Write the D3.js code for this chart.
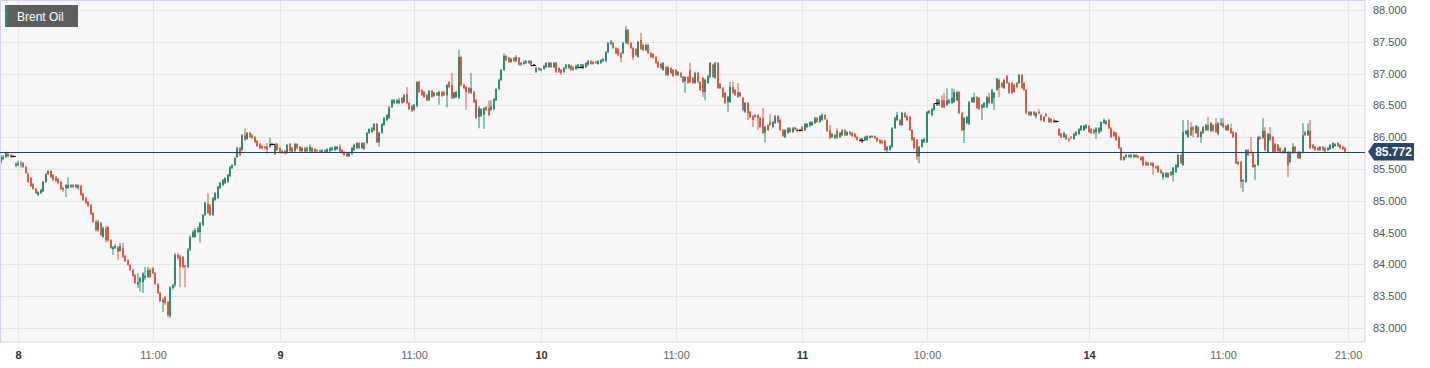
<!DOCTYPE html>
<html>
<head>
<meta charset="utf-8">
<script src="https://cdn.jsdelivr.net/npm/d3@7/dist/d3.min.js"></script>
<style>
  html, body { margin: 0; padding: 0; background: #ffffff; }
  svg { display: block; }
  text { font-family: "Liberation Sans", Arial, Helvetica, sans-serif; }
</style>
</head>
<body>
<svg id="chart" width="1430" height="368"></svg>
<script>
// ---------------- DATA ----------------
const title = "Brent Oil";

const opens = [
  // day 8
  85.61,85.66,85.69,85.74,85.72,85.70,85.55,85.56,85.58,85.59,85.53,85.42,85.36,85.26,85.19,85.09,85.12,85.15,85.30,85.42,
  85.47,85.41,85.37,85.34,85.30,85.20,85.20,85.20,85.22,85.25,85.22,85.25,85.23,85.11,85.04,84.98,84.93,84.81,84.67,84.54,
  84.65,84.43,84.57,84.59,84.38,84.24,84.26,84.27,84.21,84.26,84.13,84.07,83.99,83.91,83.83,83.68,83.72,83.72,83.79,83.80,
  83.91,83.94,83.86,83.69,83.55,83.41,83.49,83.41,83.19,83.63,83.68,84.15,84.12,84.12,83.98,83.96,84.23,84.43,84.43,84.51,
  84.51,84.62,84.78,84.95,84.93,84.78,85.01,85.04,85.20,85.25,85.28,85.30,85.39,85.52,85.56,85.69,85.83,
  // day 9
  85.80,86.03,85.97,86.07,86.03,86.00,85.94,85.89,85.86,85.85,85.85,85.85,85.89,85.74,85.89,85.83,85.78,85.78,85.75,85.89,
  85.83,85.78,85.89,85.85,85.78,85.83,85.78,85.78,85.83,85.81,85.80,85.77,85.77,85.80,85.77,85.78,85.80,85.80,85.81,85.85,
  85.80,85.77,85.75,85.70,85.74,85.80,85.83,85.91,85.83,85.91,85.91,86.07,86.08,86.11,86.21,85.92,86.07,86.19,86.27,86.30,
  86.47,86.54,86.54,86.54,86.62,86.55,86.68,86.54,86.49,86.43,86.49,86.87,86.74,86.71,86.66,86.58,86.73,86.65,86.70,86.65,
  86.71,86.71,86.66,86.87,86.82,86.62,86.63,86.62,87.26,86.82,86.79,86.77,86.70,86.71,86.58,86.32,
  // day 9-10
  86.33,86.35,86.47,86.46,86.43,86.44,86.58,86.76,86.90,87.06,87.28,87.25,87.18,87.25,87.20,87.25,87.14,87.15,87.17,87.17,
  87.20,87.14,87.03,87.09,87.06,87.07,87.10,87.10,87.17,87.10,87.17,87.09,87.06,87.03,87.09,87.09,87.12,87.10,87.07,87.09,
  87.10,87.09,87.10,87.14,87.20,87.18,87.18,87.15,87.17,87.20,87.20,87.34,87.47,87.48,87.40,87.39,87.32,87.32,87.48,87.69,
  87.48,87.40,87.39,87.26,87.53,87.45,87.37,87.45,87.32,87.31,87.26,87.18,87.15,87.06,87.10,86.98,87.09,87.06,87.06,86.98,
  87.01,86.95,86.88,86.95,87.06,86.93,86.85,87.01,86.87,86.93,86.71,86.85,86.95,87.14,86.93,87.17,
  // day 10-11
  86.84,86.77,86.70,86.55,86.55,86.79,86.74,86.71,86.65,86.62,86.40,86.54,86.40,86.33,86.35,86.35,86.30,86.30,86.07,86.19,
  86.24,86.16,86.22,86.33,86.27,86.11,86.00,86.07,86.14,86.08,86.13,
  86.13,86.11,86.16,86.11,86.16,86.18,86.19,86.22,86.30,86.24,
  86.27,86.35,86.27,86.11,86.00,85.99,86.10,86.00,86.03,86.11,86.03,86.08,
  86.07,86.05,86.00,85.97,85.96,85.96,85.96,85.99,86.02,
  86.02,85.99,85.96,85.94,85.94,85.80,85.80,85.85,86.14,86.27,86.27,86.19,86.38,86.33,86.32,86.11,85.99,85.96,85.70,85.85,85.92,
  85.92,86.38,86.35,86.43,86.54,86.51,86.58,86.58,86.51,
  // day 11-14
  86.54,86.54,86.55,86.58,86.71,86.38,86.11,86.22,86.21,86.55,86.55,86.63,86.62,86.46,86.47,86.47,86.63,86.54,86.62,86.74,
  86.90,86.85,86.77,86.96,86.85,86.85,86.82,86.85,86.85,86.98,86.85,86.74,86.40,86.35,86.40,86.33,86.40,86.35,86.25,86.36,
  86.30,86.29,86.27,86.25,86.13,86.05,86.00,86.03,85.97,86.00,85.97,86.03,86.05,86.11,86.11,86.14,86.18,86.13,86.11,86.08,
  86.07,86.10,86.22,86.21,86.27,86.14,86.08,86.07,86.00,85.83,85.64,85.69,85.72,85.69,85.69,85.72,85.69,85.69,85.69,85.61,
  85.56,85.59,85.59,85.53,85.55,85.48,85.37,85.37,85.44,85.41,85.41,85.45,85.53,85.72,85.56,86.05,
  // day 14
  86.00,86.16,86.16,86.07,86.16,86.00,86.07,86.11,86.19,86.10,86.19,86.21,86.05,86.19,86.22,86.18,86.11,86.14,86.08,86.07,
  85.58,85.61,85.30,85.30,85.80,85.77,85.75,85.53,85.56,86.00,85.99,86.10,
  85.77,86.05,86.00,85.89,85.88,85.83,85.78,85.75,85.77,85.61,85.75,85.85,85.77,85.67,85.77,86.08,86.03,86.10,85.88,85.85,
  85.83,85.80,85.85,85.83,85.80,85.81,85.83,85.86,85.91,85.88,85.85,85.83
];

const highs = [
  85.72,85.72,85.77,85.77,85.74,85.72,85.61,85.63,85.63,85.61,85.55,85.44,85.37,85.28,85.20,85.15,85.19,85.31,85.44,85.48,
  85.48,85.42,85.39,85.36,85.31,85.22,85.26,85.37,85.26,85.26,85.26,85.26,85.25,85.12,85.06,85.00,84.95,84.82,84.70,84.70,
  84.67,84.60,84.60,84.60,84.40,84.29,84.32,84.29,84.34,84.34,84.15,84.08,84.00,83.93,83.85,83.86,83.80,83.88,83.96,83.96,
  83.94,83.96,83.88,83.71,83.57,83.47,83.50,83.42,83.66,83.69,84.18,84.18,84.15,84.13,83.99,84.26,84.46,84.54,84.57,84.60,
  84.67,84.79,84.98,85.12,84.95,85.06,85.14,85.23,85.30,85.34,85.37,85.42,85.55,85.58,85.69,85.85,85.85,
  86.05,86.14,86.08,86.08,86.05,86.02,85.96,85.91,85.88,85.86,85.91,85.99,85.91,85.91,85.91,85.85,85.80,85.80,85.89,85.91,
  85.85,85.91,85.91,85.86,85.85,85.85,85.85,85.89,85.85,85.83,85.81,85.80,85.81,85.81,85.83,85.85,85.85,85.86,85.86,85.89,
  85.81,85.78,85.77,85.77,85.85,85.89,85.92,85.92,85.92,85.92,86.08,86.14,86.16,86.22,86.22,86.08,86.22,86.32,86.36,86.49,
  86.60,86.60,86.60,86.62,86.63,86.68,86.79,86.55,86.51,86.52,86.88,86.88,86.76,86.73,86.68,86.74,86.74,86.71,86.71,86.73,
  86.73,86.73,86.84,86.88,87.01,86.71,86.73,87.37,87.28,86.84,86.80,86.79,87.01,86.73,86.60,86.49,
  86.46,86.47,86.49,86.58,86.58,86.62,86.77,86.92,87.07,87.32,87.29,87.26,87.25,87.26,87.29,87.26,87.18,87.21,87.21,87.21,
  87.21,87.15,87.10,87.10,87.09,87.14,87.18,87.18,87.18,87.18,87.18,87.10,87.07,87.10,87.15,87.15,87.14,87.12,87.14,87.15,
  87.15,87.15,87.18,87.21,87.21,87.20,87.20,87.21,87.23,87.25,87.35,87.50,87.53,87.50,87.42,87.40,87.34,87.50,87.75,87.70,
  87.50,87.42,87.40,87.51,87.64,87.47,87.47,87.47,87.34,87.32,87.28,87.20,87.17,87.18,87.12,87.12,87.10,87.07,87.07,87.04,
  87.03,86.96,86.96,86.96,87.17,86.95,87.03,87.03,86.88,86.95,86.92,86.98,87.18,87.15,87.18,87.18,
  86.85,86.79,86.71,86.65,86.87,86.87,86.76,86.85,86.71,86.63,86.55,86.55,86.41,86.35,86.36,86.36,86.32,86.46,86.18,86.21,
  86.36,86.25,86.35,86.35,86.29,86.13,86.13,86.16,86.16,86.16,86.16,
  86.14,86.13,86.18,86.22,86.22,86.25,86.25,86.32,86.32,86.35,
  86.38,86.36,86.29,86.19,86.07,86.05,86.14,86.08,86.13,86.13,86.10,86.10,
  86.08,86.07,86.02,85.99,85.99,86.02,86.03,86.03,86.03,
  86.03,86.00,85.97,85.96,85.96,85.86,85.88,86.16,86.32,86.40,86.29,86.40,86.40,86.35,86.33,86.13,86.00,85.97,85.86,85.97,85.99,
  86.41,86.43,86.46,86.54,86.60,86.60,86.66,86.70,86.77,
  86.60,86.77,86.76,86.73,86.73,86.40,86.32,86.33,86.57,86.63,86.70,86.65,86.63,86.52,86.55,86.65,86.70,86.76,86.71,86.93,
  86.92,86.87,86.92,86.98,86.87,86.87,86.84,86.87,86.99,86.99,86.87,86.76,86.41,86.41,86.41,86.40,86.44,86.36,86.33,86.38,
  86.32,86.30,86.29,86.27,86.14,86.07,86.08,86.05,85.99,86.02,86.07,86.10,86.14,86.19,86.19,86.21,86.19,86.14,86.13,86.16,
  86.16,86.25,86.30,86.27,86.29,86.16,86.10,86.08,86.02,85.85,85.70,85.74,85.74,85.74,85.74,85.74,85.72,85.70,85.70,85.63,
  85.61,85.61,85.61,85.55,85.56,85.50,85.45,85.45,85.45,85.47,85.53,85.58,85.74,85.74,86.27,86.11,
  86.27,86.24,86.18,86.19,86.18,86.10,86.18,86.21,86.32,86.24,86.21,86.30,86.24,86.30,86.30,86.19,86.21,86.21,86.10,86.08,
  85.63,85.63,85.34,85.81,85.81,86.00,85.77,85.58,86.02,86.02,86.30,86.16,
  86.07,86.16,86.02,85.91,85.89,85.85,85.80,85.85,85.78,85.78,85.91,85.86,85.78,85.78,86.22,86.10,86.22,86.27,85.89,85.86,
  85.85,85.86,85.86,85.85,85.85,85.89,85.92,85.91,85.92,85.89,85.86,85.85
];

const lows = [
  85.58,85.64,85.67,85.69,85.67,85.69,85.53,85.55,85.52,85.52,85.42,85.28,85.22,85.17,85.11,85.08,85.11,85.14,85.28,85.41,
  85.36,85.31,85.30,85.26,85.17,85.14,85.06,85.19,85.20,85.20,85.20,85.17,85.08,85.00,84.95,84.90,84.78,84.65,84.52,84.51,
  84.45,84.42,84.35,84.36,84.24,84.15,84.24,84.07,84.20,84.10,84.04,83.98,83.90,83.80,83.69,83.63,83.57,83.55,83.75,83.79,
  83.79,83.85,83.68,83.54,83.41,83.25,83.36,83.17,83.16,83.60,83.64,84.07,83.64,83.94,83.64,83.94,84.21,84.42,84.42,84.49,
  84.34,84.60,84.76,84.79,84.76,84.76,85.00,85.03,85.19,85.23,85.26,85.28,85.37,85.50,85.55,85.67,85.70,
  85.78,85.94,85.96,85.99,85.97,85.91,85.85,85.81,85.81,85.80,85.74,85.83,85.88,85.72,85.78,85.75,85.74,85.72,85.74,85.77,
  85.75,85.77,85.81,85.77,85.77,85.75,85.77,85.77,85.75,85.75,85.77,85.75,85.75,85.75,85.75,85.77,85.78,85.78,85.80,85.75,
  85.74,85.70,85.69,85.69,85.72,85.78,85.81,85.81,85.81,85.80,85.89,86.05,86.07,86.10,85.91,85.85,86.05,86.18,86.25,86.29,
  86.46,86.52,86.52,86.52,86.52,86.54,86.52,86.43,86.40,86.41,86.47,86.70,86.65,86.62,86.57,86.57,86.62,86.63,86.65,86.51,
  86.63,86.65,86.47,86.77,86.60,86.60,86.62,86.60,86.80,86.76,86.43,86.68,86.68,86.54,86.29,86.14,
  86.32,86.13,86.41,86.33,86.41,86.43,86.57,86.74,86.88,87.04,87.20,87.17,87.17,87.18,87.18,87.12,87.12,87.14,87.15,87.15,
  87.12,87.12,87.01,87.04,87.04,87.06,87.09,87.09,87.09,87.09,87.01,87.01,86.98,87.01,87.07,87.07,87.04,87.04,87.06,87.07,
  87.09,87.07,87.09,87.12,87.14,87.14,87.15,87.14,87.15,87.18,87.18,87.32,87.45,87.39,87.31,87.28,87.18,87.31,87.47,87.45,
  87.39,87.21,87.28,87.25,87.37,87.35,87.35,87.31,87.25,87.23,87.15,87.09,87.07,87.04,86.96,86.96,86.99,86.95,86.96,86.96,
  86.93,86.85,86.70,86.84,86.85,86.84,86.84,86.85,86.73,86.63,86.58,86.84,86.93,86.93,86.92,86.76,
  86.76,86.62,86.52,86.40,86.54,86.68,86.65,86.62,86.63,86.41,86.38,86.27,86.30,86.16,86.30,86.11,86.14,86.05,85.92,86.10,
  86.18,86.14,86.21,86.22,86.10,86.00,85.99,86.05,86.07,86.07,86.11,
  86.08,86.10,86.10,86.10,86.14,86.16,86.18,86.21,86.22,86.22,
  86.25,86.27,86.08,85.97,85.99,85.97,85.97,85.99,86.02,86.02,86.02,86.03,
  86.00,85.99,85.94,85.92,85.91,85.94,85.94,85.97,85.99,
  85.97,85.92,85.89,85.89,85.78,85.75,85.78,85.83,86.13,86.25,86.18,86.18,86.30,86.25,86.10,85.94,85.81,85.64,85.59,85.83,85.91,
  85.91,86.36,86.33,86.41,86.49,86.49,86.46,86.46,86.49,
  86.52,86.52,86.54,86.57,86.36,86.10,85.91,86.21,86.19,86.54,86.54,86.44,86.43,86.27,86.46,86.46,86.52,86.52,86.43,86.73,
  86.63,86.77,86.76,86.84,86.68,86.68,86.70,86.77,86.84,86.76,86.73,86.36,86.33,86.33,86.33,86.29,86.36,86.25,86.24,86.32,
  86.22,86.22,86.22,86.24,86.02,85.99,85.99,85.96,85.92,85.97,85.96,86.02,86.03,86.10,86.10,86.13,86.07,86.05,86.05,85.97,
  86.05,86.08,86.21,86.19,86.13,85.99,86.00,85.94,85.81,85.63,85.63,85.67,85.67,85.67,85.67,85.67,85.67,85.63,85.55,85.55,
  85.55,85.55,85.41,85.50,85.44,85.42,85.33,85.36,85.36,85.39,85.30,85.44,85.52,85.58,85.55,86.03,
  85.99,86.02,86.00,86.05,85.99,85.91,86.05,86.10,86.10,86.08,86.08,86.07,86.03,86.18,86.14,86.10,86.10,86.05,85.99,85.58,
  85.56,85.20,85.14,85.28,85.70,85.74,85.52,85.33,85.55,85.96,85.97,85.78,
  85.75,85.94,85.75,85.75,85.77,85.75,85.74,85.74,85.37,85.59,85.74,85.75,85.66,85.66,85.75,86.02,86.02,85.81,85.81,85.78,
  85.78,85.78,85.78,85.77,85.78,85.80,85.81,85.85,85.85,85.81,85.80,85.75
];

const closes = [
  85.69,85.69,85.75,85.70,85.70,85.70,85.58,85.59,85.59,85.53,85.44,85.30,85.23,85.19,85.12,85.14,85.17,85.30,85.42,85.47,
  85.37,85.33,85.31,85.28,85.19,85.17,85.25,85.25,85.25,85.22,85.25,85.20,85.09,85.01,84.97,84.92,84.79,84.67,84.54,84.67,
  84.46,84.57,84.38,84.38,84.26,84.27,84.29,84.20,84.29,84.12,84.05,83.99,83.91,83.82,83.71,83.72,83.79,83.86,83.82,83.91,
  83.80,83.86,83.69,83.55,83.42,83.44,83.39,83.20,83.64,83.68,84.15,84.10,83.96,83.96,83.96,84.23,84.43,84.51,84.54,84.57,
  84.65,84.78,84.97,84.81,84.78,85.04,85.12,85.22,85.28,85.33,85.36,85.41,85.53,85.56,85.67,85.83,85.72,
  86.03,85.96,86.07,86.00,85.99,85.92,85.86,85.83,85.83,85.83,85.81,85.89,85.89,85.89,85.80,85.77,85.75,85.75,85.88,85.78,
  85.77,85.89,85.83,85.78,85.83,85.77,85.83,85.85,85.77,85.77,85.78,85.78,85.80,85.77,85.81,85.83,85.83,85.85,85.85,85.77,
  85.75,85.72,85.70,85.75,85.83,85.88,85.91,85.83,85.91,85.81,86.07,86.13,86.14,86.21,85.92,86.07,86.21,86.30,86.35,86.47,
  86.58,86.58,86.58,86.58,86.54,86.66,86.54,86.44,86.41,86.51,86.87,86.71,86.66,86.63,86.58,86.73,86.63,86.70,86.66,86.71,
  86.65,86.66,86.82,86.79,86.62,86.70,86.71,87.26,86.82,86.77,86.71,86.70,86.77,86.55,86.30,86.46,
  86.44,86.46,86.43,86.35,86.49,86.60,86.76,86.90,87.06,87.28,87.21,87.18,87.23,87.20,87.26,87.14,87.17,87.18,87.20,87.20,
  87.14,87.14,87.09,87.06,87.07,87.12,87.17,87.17,87.10,87.17,87.03,87.03,87.01,87.09,87.14,87.14,87.06,87.06,87.12,87.14,
  87.10,87.14,87.17,87.20,87.15,87.15,87.17,87.20,87.21,87.23,87.34,87.48,87.50,87.40,87.32,87.29,87.25,87.48,87.69,87.47,
  87.40,87.26,87.29,87.50,87.39,87.37,87.45,87.32,87.26,87.25,87.17,87.10,87.09,87.17,86.98,87.10,87.01,86.96,86.98,87.03,
  86.95,86.87,86.95,86.85,86.87,86.85,87.01,86.87,86.74,86.71,86.90,86.96,87.17,86.95,87.17,86.77,
  86.77,86.63,86.54,86.63,86.79,86.70,86.66,86.63,86.70,86.43,86.54,86.38,86.32,86.27,86.32,86.30,86.16,86.07,86.16,86.11,
  86.19,86.24,86.33,86.24,86.11,86.02,86.11,86.14,86.08,86.14,86.15,
  86.10,86.11,86.11,86.21,86.21,86.24,86.24,86.30,86.24,86.33,
  86.35,86.29,86.10,85.99,86.05,86.03,85.99,86.07,86.11,86.03,86.08,86.05,
  86.02,86.00,85.96,85.94,85.96,86.00,86.02,86.02,86.00,
  85.99,85.94,85.91,85.91,85.80,85.85,85.86,86.14,86.30,86.35,86.19,86.38,86.32,86.27,86.11,85.96,85.83,85.69,85.85,85.96,85.97,
  86.40,86.41,86.44,86.52,86.54,86.58,86.47,86.47,86.58,
  86.58,86.62,86.71,86.71,86.38,86.11,86.30,86.32,86.55,86.62,86.63,86.46,86.44,86.51,86.54,86.63,86.54,86.74,86.70,86.92,
  86.77,86.79,86.90,86.85,86.70,86.70,86.71,86.79,86.98,86.77,86.74,86.38,86.35,86.40,86.35,86.38,86.38,86.27,86.32,86.33,
  86.24,86.24,86.24,86.25,86.03,86.00,86.07,85.97,85.96,85.99,86.05,86.08,86.13,86.18,86.18,86.19,86.08,86.07,86.07,86.14,
  86.14,86.24,86.27,86.25,86.14,86.00,86.02,85.96,85.83,85.64,85.69,85.72,85.69,85.72,85.72,85.69,85.70,85.64,85.56,85.56,
  85.59,85.56,85.53,85.52,85.45,85.44,85.44,85.44,85.37,85.45,85.52,85.56,85.72,85.59,86.08,86.10,
  86.11,86.03,86.11,86.18,86.00,86.08,86.16,86.19,86.11,86.22,86.10,86.08,86.22,86.22,86.16,86.11,86.19,86.07,86.00,85.59,
  85.61,85.30,85.33,85.80,85.72,85.75,85.53,85.56,86.00,85.97,86.10,85.80,
  86.05,85.96,85.77,85.77,85.78,85.77,85.75,85.83,85.56,85.77,85.85,85.77,85.67,85.77,86.03,86.03,86.11,85.83,85.83,85.80,
  85.80,85.85,85.80,85.78,85.83,85.88,85.91,85.89,85.86,85.83,85.81,85.772
];

// x-axis ticks (candle index, label, bold day label?)
const tickIndex  = [7, 61, 112, 166, 217, 271, 322, 372, 437, 491, 541];
const tickLabels = ["8", "11:00", "9", "11:00", "10", "11:00", "11", "10:00", "14", "11:00", "21:00"];
const tickIsDay  = [true, false, true, false, true, false, true, false, true, false, false];

// y-axis ticks
const yTicks = [83.0, 83.5, 84.0, 84.5, 85.0, 85.5, 86.0, 86.5, 87.0, 87.5, 88.0];

// ---------------- DRAW ----------------
const W = 1430, H = 368;
const plot = { left: 0, top: 0, right: 1365, bottom: 342 };
const N = Math.min(opens.length, highs.length, lows.length, closes.length);

const x = d3.scaleLinear().domain([-0.4, 548]).range([plot.left, plot.right]);
const y = d3.scaleLinear().domain([82.78, 88.157]).range([plot.bottom, plot.top]);

const svg = d3.select("#chart");

svg.append("rect").attr("x", 0).attr("y", 0).attr("width", W).attr("height", H).attr("fill", "#ffffff");

svg.append("rect")
  .attr("x", plot.left).attr("y", plot.top)
  .attr("width", plot.right - plot.left).attr("height", plot.bottom - plot.top)
  .attr("fill", "#f7f7f7");

// horizontal grid
svg.append("g").selectAll("line").data(yTicks).join("line")
  .attr("x1", plot.left).attr("x2", plot.right)
  .attr("y1", d => Math.round(y(d)) + 0.5).attr("y2", d => Math.round(y(d)) + 0.5)
  .attr("stroke", "#e5e5e5").attr("stroke-width", 1);

// vertical grid
svg.append("g").selectAll("line").data(tickIndex).join("line")
  .attr("x1", d => Math.round(x(d)) + 0.5).attr("x2", d => Math.round(x(d)) + 0.5)
  .attr("y1", plot.top).attr("y2", plot.bottom)
  .attr("stroke", "#e5e5e5").attr("stroke-width", 1);

// candles
const green = "#2e8b6e", red = "#d95a47";
const candles = d3.range(N).map(i => ({ i, o: opens[i], h: highs[i], l: lows[i], c: closes[i] }));
const colorOf = d => d.c > d.o ? green : (d.c < d.o ? red : "#111111");

const cg = svg.append("g");
cg.selectAll("line.wick").data(candles).join("line")
  .attr("class", "wick")
  .attr("x1", d => Math.round(x(d.i))).attr("x2", d => Math.round(x(d.i)))
  .attr("y1", d => y(d.h)).attr("y2", d => y(d.l))
  .attr("stroke", colorOf).attr("stroke-width", 1);

cg.selectAll("rect.body").data(candles).join("rect")
  .attr("class", "body")
  .attr("x", d => Math.round(x(d.i)) - 1)
  .attr("width", 2)
  .attr("y", d => y(Math.max(d.o, d.c)))
  .attr("height", d => Math.max(1, Math.abs(y(d.o) - y(d.c))))
  .attr("fill", colorOf);

// doji cross bars (open == close)
cg.selectAll("line.doji").data(candles.filter(d => d.o === d.c)).join("line")
  .attr("class", "doji")
  .attr("x1", d => x(d.i) - 2.5).attr("x2", d => x(d.i) + 2.5)
  .attr("y1", d => Math.round(y(d.c)) + 0.5).attr("y2", d => Math.round(y(d.c)) + 0.5)
  .attr("stroke", "#111111").attr("stroke-width", 1);

// plot border
svg.append("rect")
  .attr("x", plot.left + 0.5).attr("y", plot.top + 0.5)
  .attr("width", plot.right - plot.left - 0.5).attr("height", plot.bottom - plot.top - 0.5)
  .attr("fill", "none").attr("stroke", "#cfd5e6").attr("stroke-width", 1);

// current price line
const lastPrice = closes[N - 1];
const ly = Math.round(y(lastPrice)) + 0.5;
svg.append("line")
  .attr("x1", plot.left).attr("x2", plot.right)
  .attr("y1", ly).attr("y2", ly)
  .attr("stroke", "#2b3f62").attr("stroke-width", 1.2);

// y-axis labels
svg.append("g").selectAll("text").data(yTicks).join("text")
  .attr("x", 1373).attr("y", d => y(d)).attr("dy", "0.36em")
  .attr("font-size", 11).attr("fill", "#555555")
  .text(d => d3.format(".3f")(d));

// price tag
const tagY = y(lastPrice);
svg.append("path")
  .attr("d", `M1368,${tagY} L1374,${tagY - 8.8} L1414,${tagY - 8.8} L1414,${tagY + 8.8} L1374,${tagY + 8.8} Z`)
  .attr("fill", "#2c4669");
svg.append("text")
  .attr("x", 1393.5).attr("y", tagY).attr("dy", "0.36em")
  .attr("text-anchor", "middle").attr("font-size", 12).attr("font-weight", "bold")
  .attr("fill", "#ffffff")
  .text(d3.format(".3f")(lastPrice));

// x-axis labels
svg.append("g").selectAll("text").data(tickIndex).join("text")
  .attr("x", d => Math.round(x(d)) + 0.5).attr("y", 359)
  .attr("text-anchor", "middle").attr("font-size", 11)
  .attr("font-weight", (d, k) => tickIsDay[k] ? "bold" : "normal")
  .attr("fill", (d, k) => tickIsDay[k] ? "#333333" : "#666666")
  .text((d, k) => tickLabels[k]);

// title badge
svg.append("rect").attr("x", 5).attr("y", 5).attr("width", 73).attr("height", 22).attr("fill", "#5d5d5d");
svg.append("rect").attr("x", 5).attr("y", 5).attr("width", 2.5).attr("height", 22).attr("fill", green);
svg.append("text").attr("x", 17).attr("y", 21).attr("font-size", 12).attr("fill", "#ffffff").text(title);
</script>
</body>
</html>
